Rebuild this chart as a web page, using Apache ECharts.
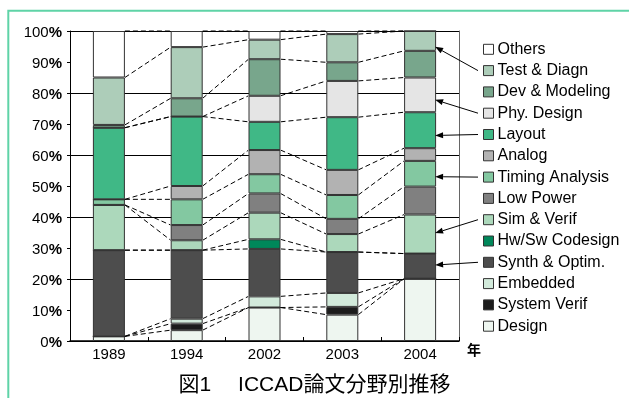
<!DOCTYPE html>
<html>
<head>
<meta charset="utf-8">
<script src="https://cdn.jsdelivr.net/npm/echarts@6/dist/echarts.min.js"></script>
<style>
  html, body { margin: 0; padding: 0; background: #fff; }
  #chart { width: 629px; height: 398px; }
</style>
</head>
<body>
<div id="chart"></div>
<script>
// Years on the category axis
const years = ['1989', '1994', '2002', '2003', '2004'];

// Share of papers per field (%), stacked from the bottom up
const design        = [1.5, 3.5, 10.8, 8.5, 20.1];
const systemVerif   = [0, 2.1, 0, 2.5, 0];
const embedded      = [0, 1.6, 3.6, 4.5, 0];
const synthOptim    = [27.8, 22.1, 15.3, 13.2, 8.1];
const hwSwCodesign  = [0, 0, 3.1, 0, 0];
const simVerif      = [14.6, 3.2, 8.6, 5.8, 12.6];
const lowPower      = [0, 4.9, 6.2, 4.9, 9.0];
const timingAnalysis= [1.8, 8.3, 6.2, 7.7, 8.3];
const analog        = [0, 4.3, 7.8, 8.1, 4.1];
const layout        = [23.1, 22.4, 9.1, 17.0, 11.6];
const phyDesign     = [0, 0, 8.4, 11.7, 11.2];
const devModeling   = [0.9, 5.9, 11.8, 6.0, 8.6];
const testDiagn     = [15.3, 16.5, 6.3, 9.1, 6.4];
const others        = [15.0, 5.2, 2.8, 1.0, 0];

// Y tick values
const yTicks = [0, 10, 20, 30, 40, 50, 60, 70, 80, 90, 100];

const fields = [
  { name: 'Design',          data: design,         color: '#eef6f0' },
  { name: 'System Verif',    data: systemVerif,    color: '#1c1c1c' },
  { name: 'Embedded',        data: embedded,       color: '#d2eadb' },
  { name: 'Synth & Optim.',  data: synthOptim,     color: '#4d4d4d' },
  { name: 'Hw/Sw Codesign',  data: hwSwCodesign,   color: '#00875a' },
  { name: 'Sim & Verif',     data: simVerif,       color: '#acd8bb' },
  { name: 'Low Power',       data: lowPower,       color: '#808080' },
  { name: 'Timing Analysis', data: timingAnalysis, color: '#83c8a1' },
  { name: 'Analog',          data: analog,         color: '#b2b2b2' },
  { name: 'Layout',          data: layout,         color: '#40b886' },
  { name: 'Phy. Design',     data: phyDesign,      color: '#e5e5e5' },
  { name: 'Dev & Modeling',  data: devModeling,    color: '#78a68c' },
  { name: 'Test & Diagn',    data: testDiagn,      color: '#adcdb9' },
  { name: 'Others',          data: others,         color: '#ffffff' }
];

// Callouts from legend entries into the 2004 bar: [field, value where the arrow lands]
const callouts = [
  ['Test & Diagn', 94.9],
  ['Phy. Design', 77.8],
  ['Layout', 66.3],
  ['Timing Analysis', 53.0],
  ['Sim & Verif', 34.8],
  ['Synth & Optim.', 24.5]
];

const FONT = '"Liberation Sans", Arial, "Noto Sans CJK JP", sans-serif';
const BAR_W = 32;
const LEGEND_TOP = 41.3, LEGEND_ROW = 21.3, LEGEND_LEFT = 483, LEGEND_ICON = 10;

// cumulative tops of each stacked segment
const tops = [];
fields.forEach((f, s) => {
  tops.push(f.data.map((v, i) => (s ? tops[s - 1][i] : 0) + v));
});

// dashed connectors between the tops of the same segment in neighbouring bars
const connectorData = [];
tops.forEach(t => {
  for (let i = 0; i < years.length - 1; i++) {
    connectorData.push([i, +t[i].toFixed(2), i + 1, +t[i + 1].toFixed(2)]);
  }
});

const barSeries = fields.map(f => ({
  name: f.name,
  type: 'bar',
  stack: 'share',
  barWidth: BAR_W,
  data: f.data,
  itemStyle: { color: f.color, borderColor: '#333', borderWidth: 1 },
  emphasis: { disabled: true }
}));

const chart = echarts.init(document.getElementById('chart'), null, { renderer: 'canvas' });

chart.setOption({
  animation: false,
  backgroundColor: '#fff',
  title: {
    text: '図1　 ICCAD論文分野別推移',
    left: 'center',
    top: 375,
    padding: 0,
    textStyle: { fontFamily: FONT, fontSize: 21, fontWeight: 'normal', color: '#000' }
  },
  grid: { left: 70, right: 170, top: 31, bottom: 57 },
  legend: {
    orient: 'vertical',
    left: LEGEND_LEFT,
    top: LEGEND_TOP,
    padding: 0,
    itemWidth: LEGEND_ICON,
    itemHeight: LEGEND_ICON,
    itemGap: LEGEND_ROW - 16,
    icon: 'rect',
    selectedMode: false,
    data: fields.map(f => f.name).reverse(),
    itemStyle: { borderColor: '#333', borderWidth: 1 },
    textStyle: { fontFamily: FONT, fontSize: 16, lineHeight: 16, color: '#000', padding: [0, 0, 0, -1] }
  },
  xAxis: {
    type: 'category',
    data: years,
    name: '年',
    nameLocation: 'end',
    nameGap: 8,
    nameTextStyle: { fontFamily: '"Noto Sans CJK JP", sans-serif', fontSize: 14, fontWeight: 'bold', color: '#000', verticalAlign: 'top', padding: [2, 0, 0, 0] },
    axisLine: { lineStyle: { color: '#000', width: 1.5 } },
    axisTick: { show: true, inside: true, length: 4, lineStyle: { color: '#000' } },
    axisLabel: { fontFamily: FONT, fontSize: 15, color: '#000', margin: 6 }
  },
  yAxis: [
    {
      type: 'value',
      min: 0,
      max: 100,
      interval: 10,
      axisLine: { show: true, lineStyle: { color: '#000', width: 1 } },
      axisTick: { show: true, length: 3, lineStyle: { color: '#000' } },
      splitLine: { show: false },
      axisLabel: {
        margin: 8,
        padding: [4, 0, 0, 0],
        formatter: v => yTicks.includes(v) ? `{n|${v}}{p|%}` : '',
        rich: {
          n: { fontFamily: FONT, fontSize: 15, color: '#000' },
          p: { fontFamily: FONT, fontSize: 15, fontWeight: 'bold', color: '#000' }
        }
      }
    },
    {
      type: 'value',
      min: 0,
      max: 100,
      interval: 20,
      position: 'right',
      axisLine: { show: true, lineStyle: { color: '#666', width: 1 } },
      axisTick: { show: false },
      axisLabel: { show: false },
      splitLine: { show: true, lineStyle: { color: '#000', width: 1 } }
    }
  ],
  series: [
    ...barSeries,
    {
      type: 'custom',
      name: 'connectors',
      data: connectorData,
      encode: { x: [0, 2], y: [1, 3] },
      z: 3,
      silent: true,
      renderItem: (params, api) => {
        const a = api.coord([api.value(0), api.value(1)]);
        const b = api.coord([api.value(2), api.value(3)]);
        return {
          type: 'line',
          shape: { x1: a[0] + BAR_W / 2, y1: a[1], x2: b[0] - BAR_W / 2, y2: b[1] },
          style: { stroke: '#000', lineWidth: 1, lineDash: [5, 3] }
        };
      }
    }
  ]
});

// legend order is top-down, reversed stacking order
const legendNames = fields.map(f => f.name).reverse();
const graphics = [
  {
    type: 'rect',
    z: -1,
    silent: true,
    shape: { x: 8.3, y: 10.7, width: 640, height: 400 },
    style: { fill: 'none', stroke: '#5fd3a7', lineWidth: 2 }
  }
];

callouts.forEach(([name, value]) => {
  const row = legendNames.indexOf(name);
  const tailX = LEGEND_LEFT - 5;
  const tailY = LEGEND_TOP + LEGEND_ICON / 2 + 3 + row * LEGEND_ROW;
  const p = chart.convertToPixel({ xAxisIndex: 0, yAxisIndex: 0 }, ['2004', value]);
  const tipX = p[0] + BAR_W / 2 - 1;
  const tipY = p[1];
  const dx = tailX - tipX, dy = tailY - tipY;
  const len = Math.hypot(dx, dy);
  const ux = dx / len, uy = dy / len;
  const headL = 8, headW = 3;
  const bx = tipX + ux * headL, by = tipY + uy * headL;
  graphics.push({
    type: 'line',
    silent: true,
    z: 10,
    shape: { x1: tailX, y1: tailY, x2: bx, y2: by },
    style: { stroke: '#000', lineWidth: 1 }
  });
  graphics.push({
    type: 'polygon',
    silent: true,
    z: 10,
    shape: { points: [[tipX, tipY], [bx - uy * headW, by + ux * headW], [bx + uy * headW, by - ux * headW]] },
    style: { fill: '#000' }
  });
});

chart.setOption({ graphic: graphics });
</script>
</body>
</html>
